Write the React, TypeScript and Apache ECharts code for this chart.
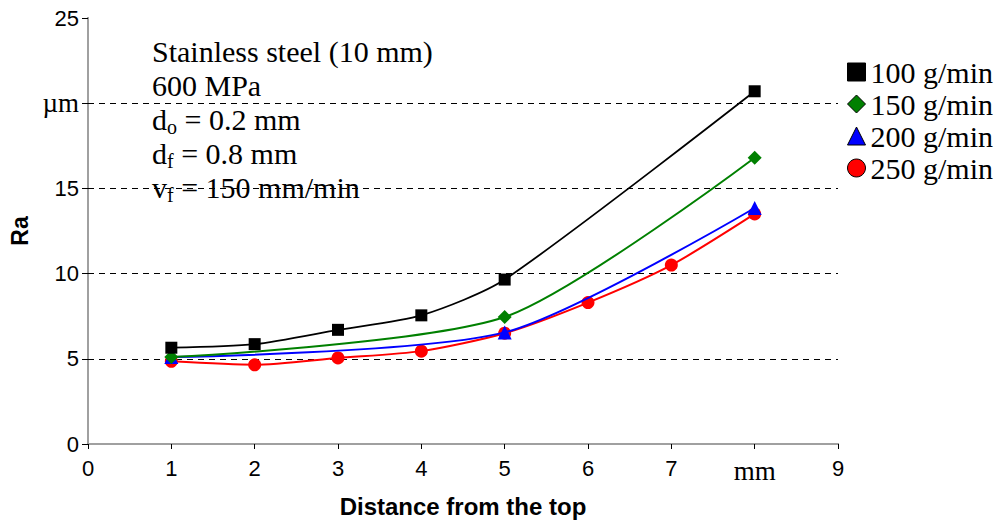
import React, { useEffect, useRef } from "react";
import * as echarts from "echarts";

const xTicks = [0, 1, 2, 3, 4, 5, 6, 7, 8, 9];
const yTicks = [0, 5, 10, 15, 20, 25];
const seriesNames = ["100 g/min", "150 g/min", "200 g/min", "250 g/min"];
const s100 = [[1, 5.65], [2, 5.86], [3, 6.7], [4, 7.55], [5, 9.65], [8, 20.7]];
const s150 = [[1, 5.1], [5, 7.45], [8, 16.8]];
const s200 = [[1, 5.1], [5, 6.55], [8, 13.85]];
const s250 = [[1, 4.85], [2, 4.65], [3, 5.05], [4, 5.45], [5, 6.5], [6, 8.3], [7, 10.5], [8, 13.5]];
const annotation = [
  "Stainless steel (10 mm)",
  "600 MPa",
  "d{sub|o} = 0.2 mm",
  "d{sub|f} = 0.8 mm",
  "v{sub|f} = 150 mm/min",
];

const SERIF = "'Liberation Serif', 'Times New Roman', serif";
const SANS = "'Liberation Sans', Arial, sans-serif";

export default function App() {
  const ref = useRef<HTMLDivElement>(null);
  useEffect(() => {
    document.body.style.margin = "0";
    const chart = echarts.init(ref.current!, null, { renderer: "svg" });
    const colors = ["#000000", "#008000", "#0000ff", "#ff0000"];
    const symbols = ["rect", "diamond", "triangle", "circle"];
    const sizes = [12, 14, 14, 13];
    const datas = [s100, s150, s200, s250];
    const gridValues = yTicks.filter((v) => v > yTicks[0] && v < yTicks[yTicks.length - 1]);
    const series: any[] = [3, 2, 1, 0].map((i, k) => ({
      name: seriesNames[i],
      type: "line",
      data: datas[i],
      smooth: 0.25,
      symbol: symbols[i],
      symbolSize: sizes[i],
      lineStyle: { color: colors[i], width: i === 0 ? 1.8 : 2 },
      itemStyle: { color: colors[i] },
      z: 5 + (3 - i),
      markLine:
        k === 0
          ? {
              silent: true,
              symbol: "none",
              label: { show: false },
              lineStyle: { color: "#000", type: [6, 5], width: 1 },
              data: gridValues.map((v) => ({ yAxis: v })),
            }
          : undefined,
    }));
    chart.setOption({
      animation: false,
      grid: { left: 85, right: 161, top: 18, bottom: 81 },
      legend: {
        orient: "vertical",
        left: 842,
        top: 52,
        itemWidth: 18,
        itemHeight: 18,
        itemGap: 2,
        textStyle: { fontFamily: SERIF, fontSize: 30, color: "#000" },
        data: seriesNames.map((n, i) => ({
          name: n,
          icon: symbols[i],
          itemStyle: { color: colors[i], borderColor: "#000", borderWidth: 1 },
        })),
      },
      xAxis: [
        {
          type: "value",
          min: xTicks[0],
          max: xTicks[xTicks.length - 1],
          interval: 1,
          name: "Distance from the top",
          nameLocation: "middle",
          nameGap: 50,
          nameTextStyle: { fontFamily: SANS, fontWeight: "bold", fontSize: 24, color: "#000" },
          axisLine: { lineStyle: { color: "#000", width: 1.5 } },
          axisTick: { show: true, length: 5, lineStyle: { color: "#000" } },
          splitLine: { show: false },
          axisLabel: {
            margin: 13,
            fontFamily: SANS,
            fontSize: 22,
            color: "#000",
            formatter: (v: number) => (v === 8 ? "{mm|mm}" : String(v)),
            rich: {
              mm: { fontFamily: SERIF, fontSize: 27, color: "#000", padding: [0, 0, 12, 0] },
            },
          },
        },
        {
          type: "value",
          position: "top",
          min: 0,
          max: 9,
          interval: 1,
          axisLine: { show: true, lineStyle: { color: "#a0a0a0", width: 2 } },
          axisTick: { show: false },
          axisLabel: { show: false },
          splitLine: { show: false },
        },
      ],
      yAxis: [
        {
          type: "value",
          min: yTicks[0],
          max: yTicks[yTicks.length - 1],
          interval: 5,
          name: "Ra",
          nameLocation: "middle",
          nameGap: 57,
          nameTextStyle: { fontFamily: SANS, fontWeight: "bold", fontSize: 23, color: "#000" },
          axisLine: { show: true, lineStyle: { color: "#333", width: 1.5 } },
          axisTick: { show: true, length: 6, lineStyle: { color: "#000" } },
          splitLine: { show: false },
          axisLabel: {
            margin: 9,
            fontFamily: SANS,
            fontSize: 22,
            color: "#000",
            formatter: (v: number) => (v === 20 ? "{mu|µm}" : String(v)),
            rich: { mu: { fontFamily: SERIF, fontSize: 27, color: "#000" } },
          },
        },
        {
          type: "value",
          position: "right",
          min: 0,
          max: 25,
          interval: 5,
          axisLine: { show: true, lineStyle: { color: "#a0a0a0", width: 2 } },
          axisTick: { show: false },
          axisLabel: { show: false },
          splitLine: { show: false },
        },
      ],
      graphic: annotation.map((t, i) => ({
        type: "text",
        left: 152,
        top: 36 + i * 34,
        z: -10,
        style: {
          text: t,
          fontFamily: SERIF,
          fontSize: 30,
          fill: "#000",
          rich: {
            sub: { fontFamily: SERIF, fontSize: 20, padding: [16, 0, 0, 0] },
          },
        },
      })),
      series,
    });
    return () => chart.dispose();
  }, []);
  return <div ref={ref} style={{ width: 999, height: 525 }} />;
}
